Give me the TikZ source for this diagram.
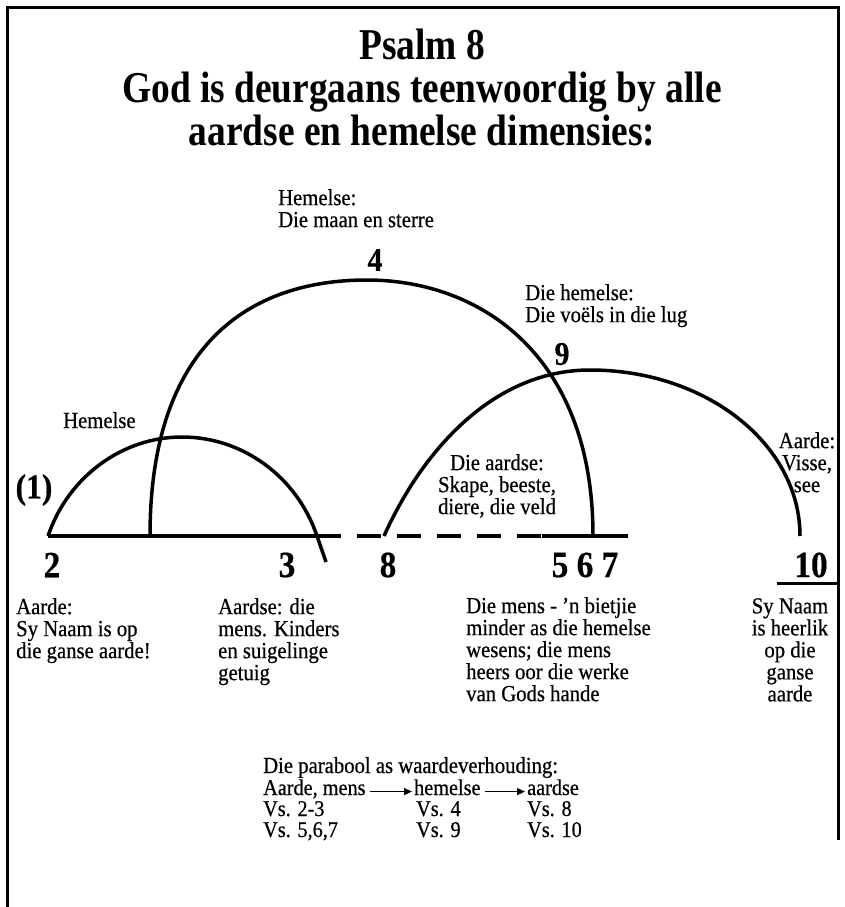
\documentclass[tikz,border=0pt]{standalone}
\usepackage{fontspec}
\setmainfont{Liberation Serif}[FakeStretch=0.9, FakeBold=0.5]
\newfontfamily\titlefont{Liberation Serif}[FakeStretch=0.85]
\usetikzlibrary{arrows.meta}

\begin{document}
\begin{tikzpicture}[x=1pt,y=-1pt,
  lbl/.style={font=\fontsize{23}{22}\selectfont, inner sep=0pt, align=left},
  num/.style={font=\fontsize{37}{37}\selectfont\bfseries, inner sep=0pt},
  arc/.style={line width=3.5pt},
  row/.style={font=\fontsize{22.5}{21}\selectfont, inner sep=0pt, anchor=base west, text height=1.5ex, text depth=0ex}]
  \useasboundingbox (0,0) rectangle (844,907);

  % frame (open at the bottom)
  \draw[line width=3pt] (7,907) -- (7,8) -- (838,8) -- (838,840);

  \node[font=\titlefont\fontsize{44}{43}\selectfont\bfseries, align=center] (title) at (422,88)
    {Psalm 8\\God is deurgaans teenwoordig by alle\\aardse en hemelse dimensies:};

  % points on the base line
  \coordinate (v2) at (48,536);
  \coordinate (v3) at (317,536);
  \coordinate (v3e) at (326,562);
  \coordinate (v4a) at (150,536);
  \coordinate (v4b) at (593,536);
  \coordinate (v8) at (384,536);
  \coordinate (v567a) at (542,536);
  \coordinate (v567b) at (628,536);
  \coordinate (v10) at (800,536);
  \coordinate (u10a) at (777,583);
  \coordinate (u10b) at (838,583);

  \draw[arc] (v2) -- (v3);
  \draw[arc, dash pattern=on 24pt off 16pt] (v3) -- (v567a);
  \draw[arc] (v567a) -- (v567b);
  \draw[line width=3pt] (u10a) -- (u10b);

  % the three parabolas
  \draw[arc] (v2) .. controls (68,477) and (122,437) .. (182,437)
    .. controls (243,437) and (297,477) .. (v3) -- (v3e);
  \draw[arc] (v4a) .. controls (150,344) and (250,280) .. (367,280)
    .. controls (480,280) and (593,355) .. (v4b);
  \draw[arc] (v8) .. controls (425,445) and (497,370) .. (590,370)
    .. controls (706,370) and (800,444) .. (v10);

  % verse numbers
  \node[num] (n2) at (52,565) {2};
  \node[num] (n3) at (287,565) {3};
  \node[num] (n8) at (388,565) {8};
  \node[num] (n567) at (585,565) {5 6 7};
  \node[num] (n10) at (811,565) {10};
  \node[num, font=\fontsize{33}{33}\selectfont\bfseries] (n4) at (375,260) {4};
  \node[num, font=\fontsize{33}{33}\selectfont\bfseries] (n9) at (562,354) {9};
  \node[num, font=\fontsize{35}{35}\selectfont\bfseries] (n1) at (34,490) {(1)};

  % labels at the arcs
  \node[lbl, anchor=north west] (hem4) at (278,189) {Hemelse:\\Die maan en sterre};
  \node[lbl, anchor=north west] (hem9) at (525,284) {Die hemelse:\\Die vo\"els in die lug};
  \node[lbl, anchor=base west] (hem1) at (63,428) {Hemelse};
  \node[lbl, align=center, anchor=north] (aard8) at (497,454) {Die aardse:\\Skape, beeste,\\diere, die veld};
  \node[lbl, align=center, anchor=north] (aard10) at (807,432) {Aarde:\\Visse,\\see};

  % texts below the base line
  \node[lbl, anchor=north west] (t2) at (16,598) {Aarde:\\Sy Naam is op\\die ganse aarde!};
  \node[lbl, anchor=north west] (t3) at (218,598) {Aardse: die\\mens. Kinders\\en suigelinge\\getuig};
  \node[lbl, anchor=north west] (t567) at (466,597) {Die mens - 'n bietjie\\minder as die hemelse\\wesens; die mens\\heers oor die werke\\van Gods hande};
  \node[lbl, align=center, anchor=north] (t10) at (790,598) {Sy Naam\\is heerlik\\op die\\ganse\\aarde};

  % the parabola as scale of values
  \node[lbl, anchor=base west] (par) at (263,773) {Die parabool as waardeverhouding:};
  \node[row] (am) at (263,795) {Aarde, mens};
  \node[row] (hm) at (414,795) {hemelse};
  \node[row] (ad) at (527,795) {aardse};
  \draw[-{Triangle[length=8pt,width=7pt]}, line width=1.4pt] ([xshift=4pt]am.east) -- ([xshift=-2pt]hm.west);
  \draw[-{Triangle[length=8pt,width=7pt]}, line width=1.4pt] ([xshift=4pt]hm.east) -- ([xshift=-2pt]ad.west);
  \node[row] (vs23) at (263,816) {Vs. 2-3};
  \node[row] (vs4) at (416,816) {Vs. 4};
  \node[row] (vs8) at (527,816) {Vs. 8};
  \node[row] (vs567) at (263,837) {Vs. 5,6,7};
  \node[row] (vs9) at (416,837) {Vs. 9};
  \node[row] (vs10) at (527,837) {Vs. 10};
\end{tikzpicture}
\end{document}
